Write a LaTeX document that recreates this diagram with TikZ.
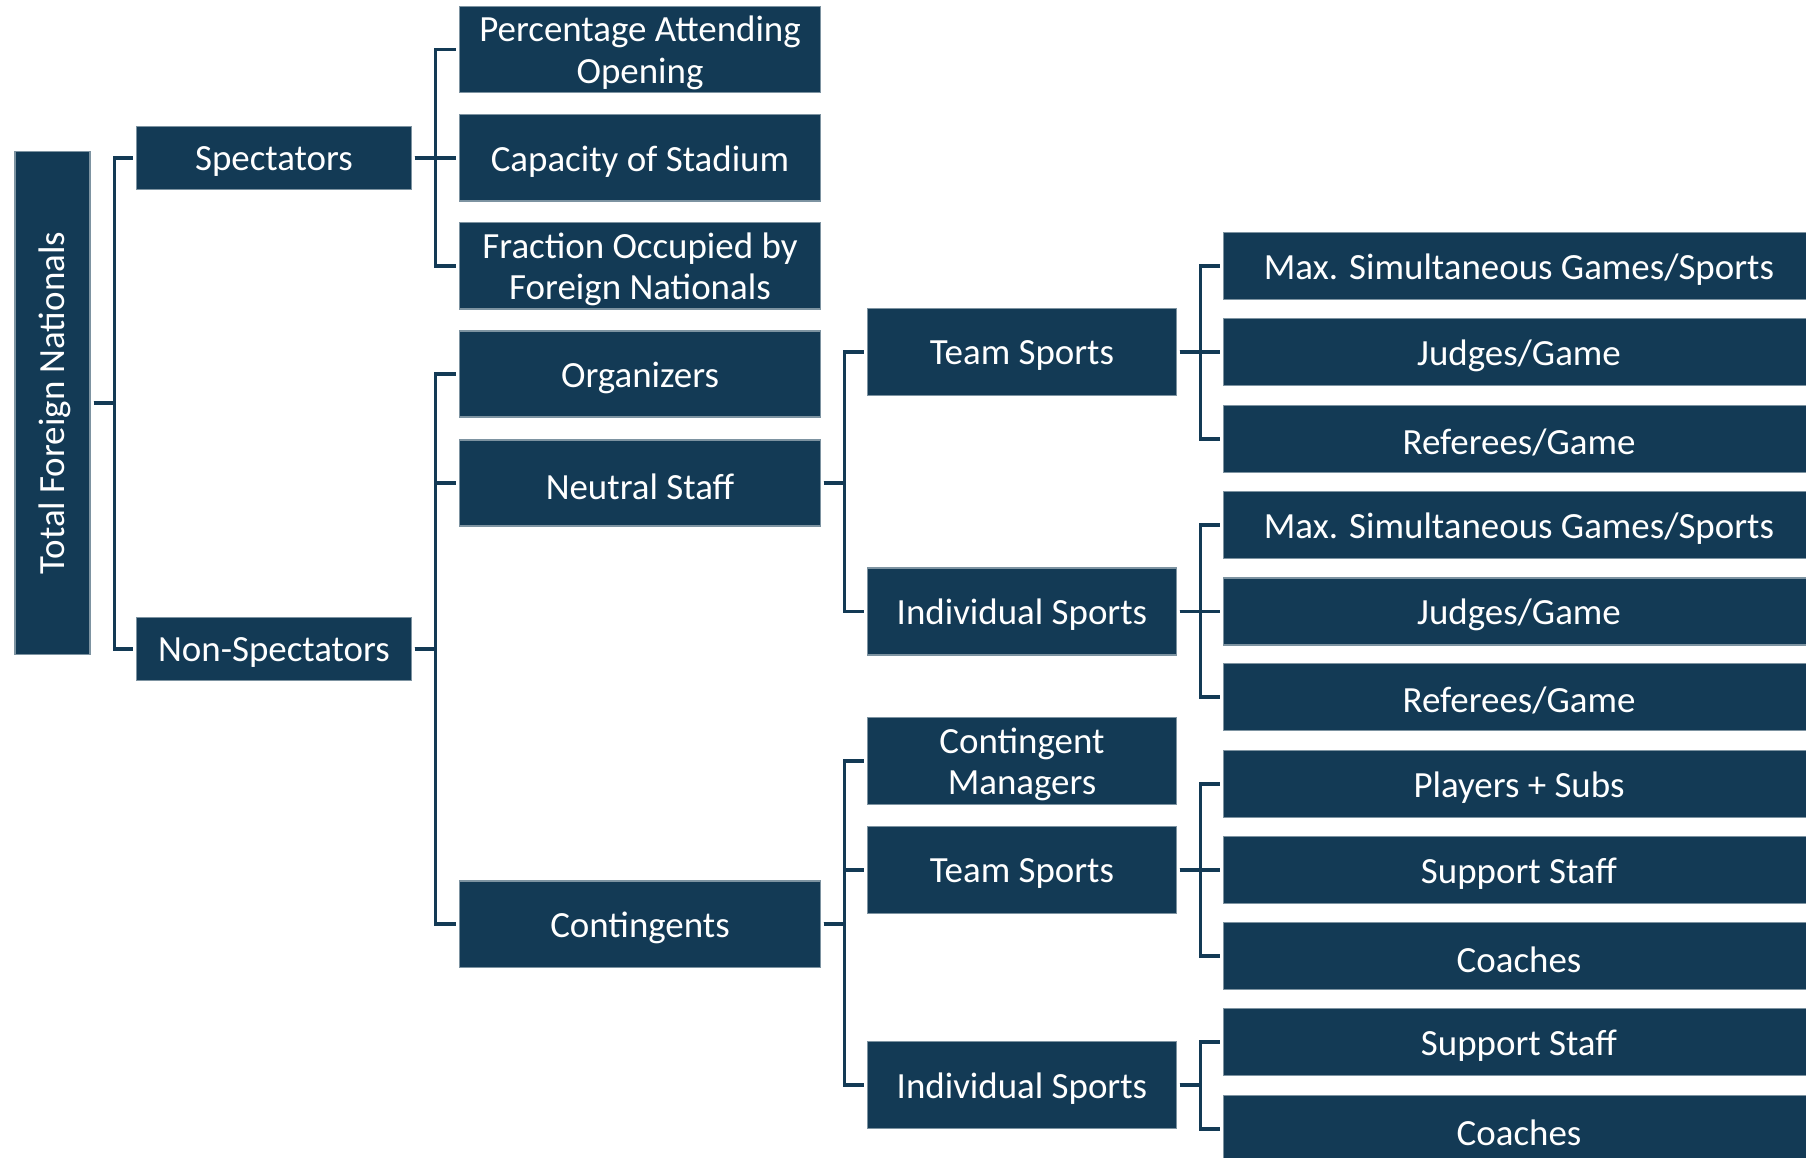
\documentclass[tikz,border=0pt]{standalone}
\usepackage{fontspec}
\setmainfont{Carlito}
\definecolor{navy}{HTML}{133A55}
\tikzset{
	box/.style={shape=rectangle, fill=navy, draw=navy!55!white, line width=0.3pt, inner sep=0pt},
	caption/.style={text=white, align=center, inner sep=0pt, yshift=-0.035cm, font=\fontsize{10.5}{11.8}\selectfont},
	rootbox/.style={box, minimum width=0.75cm, minimum height=5.03cm, label={[text=white, inner sep=0pt, font=\fontsize{10.5}{11.8}\selectfont, xshift=0.025cm, rotate=90]center:#1}},
	catbox/.style={box, minimum width=2.74cm, minimum height=0.63cm, label={[caption]center:#1}},
	subbox/.style={box, minimum width=3.60cm, minimum height=0.86cm, label={[caption]center:#1}},
	groupbox/.style={box, minimum width=3.08cm, minimum height=0.87cm, label={[caption]center:#1}},
	itembox/.style={box, minimum width=5.90cm, minimum height=0.67cm, label={[caption]center:#1}},
	link/.style={draw=navy, line width=0.9pt, shorten <=0.03cm, shorten >=0.03cm}
}
\begin{document}
\begin{tikzpicture}[x=0.01cm, y=-0.01cm]
	\useasboundingbox (0,0) rectangle (1806,1158);
	% Root and first level:
	\node[rootbox={Total Foreign Nationals}] (root) at (52.5, 403){};
	\node[catbox=Spectators] (spec) at (274, 158){};
	\node[catbox=Non-Spectators] (nonspec) at (274, 649){};
	% Second level:
	\node[subbox={Percentage Attending\\Opening}] (pct) at (640, 49.5){};
	\node[subbox={Capacity of Stadium}] (cap) at (640, 158){};
	\node[subbox={Fraction Occupied by\\Foreign Nationals}] (frac) at (640, 266){};
	\node[subbox=Organizers] (org) at (640, 374){};
	\node[subbox={Neutral Staff}] (neut) at (640, 483){};
	\node[subbox=Contingents] (cont) at (640, 924){};
	% Third level:
	\node[groupbox={Team Sports}] (nteam) at (1022, 352){};
	\node[groupbox={Individual Sports}] (nind) at (1022, 611.5){};
	\node[groupbox={Contingent\\Managers}] (cmgr) at (1022, 761){};
	\node[groupbox={Team Sports}] (cteam) at (1022, 870){};
	\node[groupbox={Individual Sports}] (cind) at (1022, 1085){};
	% Fourth level:
	\node[itembox={Max. Simultaneous Games/Sports}] (ntmax) at (1519, 266){};
	\node[itembox={Judges/Game}] (ntjud) at (1519, 352){};
	\node[itembox={Referees/Game}] (ntref) at (1519, 439){};
	\node[itembox={Max. Simultaneous Games/Sports}] (nimax) at (1519, 525){};
	\node[itembox={Judges/Game}] (nijud) at (1519, 611.5){};
	\node[itembox={Referees/Game}] (niref) at (1519, 697){};
	\node[itembox={Players + Subs}] (ctplay) at (1519, 784){};
	\node[itembox={Support Staff}] (ctsup) at (1519, 870){};
	\node[itembox=Coaches] (ctcoach) at (1519, 956){};
	\node[itembox={Support Staff}] (cisup) at (1519, 1042){};
	\node[itembox=Coaches] (cicoach) at (1519, 1129){};
	% Wires:
	\draw[link] (root.east) -- ++(24,0) |- (spec.west);
	\draw[link] (root.east) -- ++(24,0) |- (nonspec.west);
	\foreach \p/\c in {spec/pct, spec/cap, spec/frac, nonspec/org, nonspec/neut, nonspec/cont,
		neut/nteam, neut/nind, cont/cmgr, cont/cteam, cont/cind,
		nteam/ntmax, nteam/ntjud, nteam/ntref, nind/nimax, nind/nijud, nind/niref,
		cteam/ctplay, cteam/ctsup, cteam/ctcoach, cind/cisup, cind/cicoach}
		\draw[link] (\p.east) -- ++(24,0) |- (\c.west);
\end{tikzpicture}
\end{document}
